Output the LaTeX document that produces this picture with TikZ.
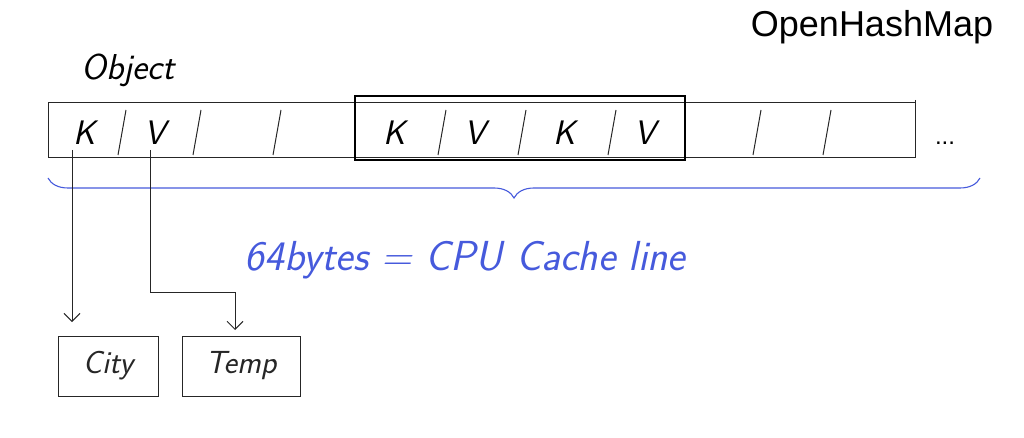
\documentclass[tikz,border=0pt]{standalone}
\usepackage{fontspec}
\setmainfont{Liberation Sans}
\usetikzlibrary{decorations.pathreplacing,arrows.meta}
\begin{document}
\begin{tikzpicture}[x=1pt,y=-1pt,
  ink/.style={line width=1pt,black!85},
  blueink/.style={line width=1.1pt,color={rgb,255:red,70;green,90;blue,220}},
  cell/.style={font=\fontsize{34}{34}\selectfont\sffamily\itshape,inner sep=0pt},
  tbox/.style={draw,ink,minimum width=100pt,minimum height=60pt,font=\fontsize{32}{32}\selectfont\itshape\sffamily}]
\useasboundingbox (0,0) rectangle (1024,438);
\node[font=\fontsize{36}{36}\selectfont] (title) at (872,27) {OpenHashMap};
\node[font=\fontsize{36}{36}\selectfont\itshape\sffamily] (obj) at (128,70) {Object};
% strip
\draw[ink] (48,103) -- (915,103) (48,158) -- (915,158) (48,103) -- (48,158);
\draw[ink] (915,100) -- (915,158);
\foreach \x in {120,195,275,440,520,610,755,825} \draw[ink] (\x+6,110) -- (\x-2,155);
\draw[line width=2.4pt] (355,96) rectangle (685,160);
\node[cell] (k1) at (85,133) {K};
\node[cell] (v1) at (155,133) {V};
\node[cell] (k2) at (395,133) {K};
\node[cell] (v2) at (475,133) {V};
\node[cell] (k3) at (565,133) {K};
\node[cell] (v3) at (645,133) {V};
\node[font=\fontsize{24}{24}\selectfont] (dots) at (945,143) {...};
% brace
\draw[blueink,decorate,decoration={brace,amplitude=20pt,mirror}] (48,178) -- (980,178);
\node[blueink,font=\fontsize{42}{42}\selectfont\itshape\sffamily] (cap) at (465,260) {64bytes = CPU Cache line};
% boxes
\node[tbox] (city) at (108,366) {City};
\node[tbox,minimum width=118pt] (temp) at (241,366) {Temp};
\coordinate (kb) at (72,150);
\coordinate (vb) at (150,150);
\coordinate (vt) at (150,292);
\coordinate (vr) at (235,292);
\draw[ink,-{Straight Barb[length=8pt]}] (kb) -- (72,322);
\draw[ink,-{Straight Barb[length=8pt]}] (vb) -- (vt) -- (vr) -- (235,330);
\end{tikzpicture}
\end{document}
